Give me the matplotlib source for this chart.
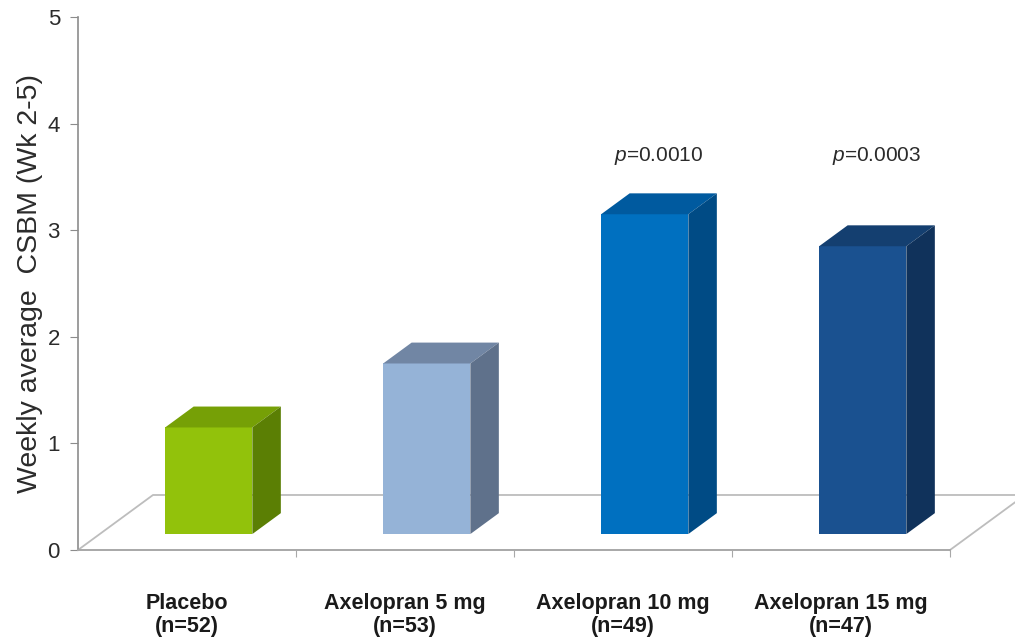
import matplotlib
matplotlib.use("Agg")
import matplotlib.pyplot as plt
from matplotlib.patches import Polygon

plt.rcParams['font.family'] = ['Liberation Sans', 'DejaVu Sans']
plt.rcParams['mathtext.fontset'] = 'custom'
plt.rcParams['mathtext.it'] = 'Liberation Sans:italic'
plt.rcParams['mathtext.rm'] = 'Liberation Sans'

# data
groups = ['Placebo\n(n=52)', 'Axelopran 5 mg\n(n=53)',
          'Axelopran 10 mg\n(n=49)', 'Axelopran 15 mg\n(n=47)']
csbm = [1.0, 1.6, 3.0, 2.7]
pvals = [None, None, '0.0010', '0.0003']

front_cols = ['#92c20b', '#95b3d7', '#0070c0', '#1a5190']
top_cols = ['#76a006', '#7186a4', '#005a9f', '#143f70']
side_cols = ['#5b7f04', '#5f718b', '#004b85', '#10325b']

# fake 3d: depth direction in data units
DX, DY = 0.344, 0.516
Z0, Z1 = 0.29, 0.67
BW = 0.40

fig = plt.figure(figsize=(10.15, 6.38), dpi=100)
ax = fig.add_axes([78 / 1015, 88 / 638, 937 / 1015, 533 / 638])
ax.set_xlim(0, 937 / 218)
ax.set_ylim(0, 5)

# floor
n = len(groups)
floor_col = '#bdbdbd'
ax.plot([0, DX, n + DX], [0, DY, DY], color=floor_col, lw=1.3, zorder=1, clip_on=False)
ax.plot([n, n + DX], [0, DY], color=floor_col, lw=1.3, zorder=1, clip_on=False)

# bars: front face via ax.bar, then top and side faces
xs = [i + 0.5 - BW / 2 + Z0 * DX for i in range(n)]
ax.bar(xs, csbm, width=BW, bottom=Z0 * DY, align='edge',
       color=front_cols, linewidth=0, zorder=3)
d = Z1 - Z0
for x, v, tc, sc in zip(xs, csbm, top_cols, side_cols):
    y0 = Z0 * DY
    top = Polygon([(x, y0 + v), (x + BW, y0 + v),
                   (x + BW + d * DX, y0 + v + d * DY), (x + d * DX, y0 + v + d * DY)],
                  closed=True, facecolor=tc, edgecolor='none', zorder=3)
    side = Polygon([(x + BW, y0), (x + BW + d * DX, y0 + d * DY),
                    (x + BW + d * DX, y0 + v + d * DY), (x + BW, y0 + v)],
                   closed=True, facecolor=sc, edgecolor='none', zorder=3)
    ax.add_patch(top)
    ax.add_patch(side)

# p-values above the treatment bars
for x, p in zip(xs, pvals):
    if p is None:
        continue
    ax.text(x + (BW + d * DX) / 2, 3.7, r'$p$=' + p, ha='center', va='center',
            fontsize=15, color='#2b2b2b')

# axes
for s in ['top', 'right']:
    ax.spines[s].set_visible(False)
ax.spines['left'].set_color('#8c8c8c')
ax.spines['bottom'].set_color('#a8a8a8')
ax.spines['bottom'].set_bounds(0, n)
ax.spines['left'].set_linewidth(1.2)
ax.spines['bottom'].set_linewidth(1.4)

ax.set_yticks(range(6))
ax.tick_params(axis='y', direction='out', length=6, color='#8c8c8c',
               labelsize=16, labelcolor='#2b2b2b', pad=7)
ax.set_xticks(range(1, n + 1))
ax.set_xticklabels([])
ax.tick_params(axis='x', which='major', direction='out', length=5, color='#a8a8a8')
ax.set_xticks([i + 0.5 for i in range(n)], minor=True)
ax.set_xticklabels(groups, minor=True, fontweight='bold', fontsize=15.5,
                   color='#1a1a1a', linespacing=1.12)
ax.tick_params(axis='x', which='minor', length=0, pad=31)

ax.set_ylabel('Weekly average  CSBM (Wk 2-5)', fontsize=20.5, color='#2b2b2b', va='center')
ax.yaxis.set_label_coords(-0.051, 0.5)

fig.savefig('out.png', dpi=100)
